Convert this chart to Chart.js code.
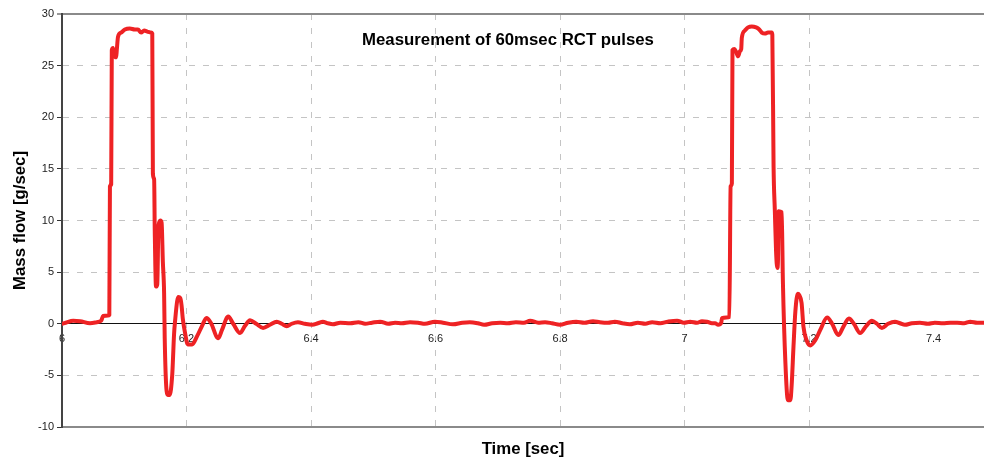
<!DOCTYPE html>
<html>
<head>
<meta charset="utf-8">
<script src="https://cdn.jsdelivr.net/npm/chart.js@4/dist/chart.umd.min.js"></script>
<style>
  body { margin: 0; background: #fff; }
  #wrap { width: 984px; height: 459px; position: relative; }
</style>
</head>
<body>
<div id="wrap"><canvas id="grafico"></canvas></div>
<script>
// dados
const chartTitle = 'Measurement of 60msec RCT pulses';
const xTitle = 'Time [sec]';
const yTitle = 'Mass flow [g/sec]';

const timeSec = [
  6.000, 6.006, 6.018, 6.029, 6.045, 6.056, 6.063, 6.066, 6.074, 6.076,
  6.077, 6.079, 6.080, 6.082, 6.084, 6.087, 6.088, 6.090, 6.095, 6.101,
  6.109, 6.117, 6.122, 6.127, 6.132, 6.137, 6.143, 6.145, 6.146, 6.148,
  6.149, 6.151, 6.153, 6.155, 6.158, 6.160, 6.162, 6.164, 6.165, 6.168,
  6.170, 6.173, 6.177, 6.178, 6.180, 6.182, 6.185, 6.187, 6.190, 6.192,
  6.194, 6.198, 6.202, 6.209, 6.217, 6.225, 6.232, 6.239, 6.251, 6.257,
  6.267, 6.275, 6.286, 6.294, 6.302, 6.312, 6.323, 6.334, 6.345, 6.353,
  6.361, 6.369, 6.379, 6.390, 6.402, 6.411, 6.419, 6.427, 6.435, 6.447,
  6.463, 6.476, 6.487, 6.498, 6.511, 6.524, 6.535, 6.546, 6.559, 6.572,
  6.583, 6.599, 6.612, 6.628, 6.643, 6.655, 6.668, 6.678, 6.691, 6.704,
  6.716, 6.729, 6.742, 6.752, 6.765, 6.776, 6.787, 6.800, 6.813, 6.826,
  6.839, 6.853, 6.864, 6.877, 6.888, 6.900, 6.912, 6.925, 6.937, 6.948,
  6.961, 6.973, 6.988, 6.999, 7.009, 7.020, 7.028, 7.036, 7.044,
  7.049, 7.054, 7.059, 7.060, 7.067, 7.072, 7.074, 7.076, 7.077, 7.080,
  7.083, 7.086, 7.089, 7.091, 7.092, 7.097, 7.102, 7.108, 7.115, 7.120,
  7.124, 7.129, 7.134, 7.140, 7.141, 7.143, 7.145, 7.147, 7.149, 7.150,
  7.151, 7.156, 7.158, 7.162, 7.166, 7.170, 7.172, 7.175, 7.178, 7.182,
  7.184, 7.188, 7.191, 7.196, 7.202, 7.210, 7.218, 7.229, 7.237, 7.247,
  7.255, 7.264, 7.272, 7.282, 7.292, 7.301, 7.309, 7.317, 7.327, 7.338,
  7.346, 7.354, 7.365, 7.378, 7.391, 7.402, 7.415, 7.427, 7.438, 7.449,
  7.459, 7.470, 7.481
];

const massFlow = [
  0.0, 0.1, 0.3, 0.25, 0.05, 0.15, 0.3, 0.75, 0.8, 0.85,
  13.3, 13.5, 26.5, 26.7, 26.0, 25.8, 26.5, 27.8, 28.2, 28.5,
  28.6, 28.5, 28.5, 28.2, 28.4, 28.3, 28.2, 28.1, 14.5, 14.0,
  9.0, 3.6, 3.8, 9.5, 10.0, 9.8, 6.0, 3.0, -1.4, -6.5,
  -6.9, -6.9, -5.0, -3.8, -1.0, 0.5, 2.2, 2.6, 2.5, 1.8,
  0.5, -1.0, -2.0, -2.0, -1.2, -0.2, 0.55, 0.1, -1.4, -0.6,
  0.7, 0.0, -0.9, -0.2, 0.35, 0.0, -0.4, -0.1, 0.2, 0.0,
  -0.25, 0.0, 0.15, 0.0, -0.1, 0.05, 0.2, 0.05, -0.05, 0.1,
  0.05, 0.15, 0.0, 0.1, 0.2, 0.0, 0.1, 0.05, 0.15, 0.1,
  0.0, 0.2, 0.1, -0.05, 0.1, 0.15, 0.05, -0.1, 0.05, 0.1,
  0.05, 0.15, 0.1, 0.3, 0.1, 0.15, 0.05, -0.1, 0.1, 0.2,
  0.1, 0.25, 0.15, 0.1, 0.2, 0.05, -0.05, 0.1, 0.0, 0.15,
  0.05, 0.2, 0.3, 0.1, 0.2, 0.1, 0.25, 0.2, 0.05,
  0.05, -0.1, 0.1, 0.55, 0.6, 0.65, 13.3, 13.6, 26.5, 26.6,
  26.3, 25.9, 26.4, 26.6, 27.7, 28.4, 28.7, 28.8, 28.7, 28.5,
  28.2, 28.1, 28.2, 28.2, 28.0, 15.2, 11.0, 7.0, 5.4, 6.0,
  10.9, 10.8, 4.0, -3.8, -7.4, -7.4, -6.0, -2.2, 1.2, 2.9,
  2.8, 2.0, -0.3, -1.6, -2.1, -1.6, -0.6, 0.6, 0.0, -1.1,
  -0.3, 0.5, 0.0, -0.9, -0.2, 0.3, 0.0, -0.4, 0.0, 0.2,
  0.05, -0.1, 0.05, 0.1, 0.0, 0.1, 0.05, 0.1, 0.1, 0.05,
  0.2, 0.1, 0.1
];

const xRange = [6, 7.481];
const yRange = [-10, 30];

Chart.defaults.font.family = '"Liberation Sans", Arial, sans-serif';
Chart.defaults.color = '#222';

function naGrade(v) {
  // só os múltiplos de 0.2
  return Math.abs(v * 5 - Math.round(v * 5)) < 1e-6;
}

// título dentro da área do gráfico
const tituloInterno = {
  id: 'tituloInterno',
  afterDraw(chart) {
    const { ctx, chartArea } = chart;
    ctx.save();
    ctx.font = 'bold 16.8px "Liberation Sans", Arial, sans-serif';
    ctx.fillStyle = '#000';
    ctx.textAlign = 'center';
    ctx.textBaseline = 'middle';
    ctx.fillText(chartTitle, chartArea.left + 446, chartArea.top + 26);
    ctx.restore();
  }
};

const ctx = document.getElementById('grafico').getContext('2d');

new Chart(ctx, {
  type: 'line',
  data: {
    datasets: [{
      data: timeSec.map((t, i) => ({ x: t, y: massFlow[i] })),
      borderColor: 'rgb(238,34,36)',
      borderWidth: 4,
      borderJoinStyle: 'round',
      borderCapStyle: 'round',
      pointRadius: 0,
      cubicInterpolationMode: 'monotone',
      xAxisID: 'x',
      yAxisID: 'y'
    }]
  },
  options: {
    responsive: true,
    maintainAspectRatio: false,
    animation: false,
    layout: { padding: { top: 14, right: 0, left: 0, bottom: 0 } },
    plugins: {
      legend: { display: false },
      tooltip: { enabled: false }
    },
    scales: {
      x: {
        type: 'linear',
        position: 'bottom',
        min: xRange[0],
        max: xRange[1],
        ticks: { stepSize: 0.2, display: false },
        grid: {
          drawTicks: false,
          color: (c) => {
            if (!c.tick) return 'transparent';
            const v = c.tick.value;
            if (v < 6.001 || !naGrade(v)) return 'transparent';
            return '#c4c4c4';
          }
        },
        border: { color: '#8a8a8a', width: 2, dash: [6, 8] },
        title: {
          display: true,
          text: xTitle,
          font: { size: 16.8, weight: 'bold' },
          color: '#000',
          padding: { top: 0, bottom: 0 }
        },
        afterFit: (s) => { s.height = 32; }
      },
      x2: {
        type: 'linear',
        axis: 'x',
        position: { y: 0 },
        min: xRange[0],
        max: xRange[1],
        ticks: {
          stepSize: 0.2,
          padding: 9,
          maxRotation: 0,
          font: { size: 11 },
          callback: (v) => naGrade(v) ? String(+v.toFixed(1)) : null
        },
        grid: { display: false, drawTicks: false },
        border: { color: '#111', width: 1 },
        afterFit: (s) => { s.height = 0; s.paddingLeft = 0; s.paddingRight = 0; }
      },
      y: {
        type: 'linear',
        min: yRange[0],
        max: yRange[1],
        ticks: { stepSize: 5, padding: 3, font: { size: 11 } },
        grid: {
          tickLength: 5,
          tickWidth: 1,
          tickColor: '#333',
          lineWidth: (c) => (c.tick && c.tick.value === 30) ? 2 : 1,
          color: (c) => {
            if (!c.tick) return 'transparent';
            const v = c.tick.value;
            if (v === 0 || v === -10) return 'transparent';
            if (v === 30) return '#8a8a8a';
            return '#c4c4c4';
          }
        },
        border: {
          color: '#444',
          width: 2,
          dash: (c) => (c.tick && (c.tick.value === 30 || c.tick.value === -10)) ? [] : [6, 8]
        },
        title: {
          display: true,
          text: yTitle,
          font: { size: 16.8, weight: 'bold' },
          color: '#000',
          padding: { top: 10, bottom: 0 }
        },
        afterFit: (s) => { s.width = 62; }
      }
    }
  },
  plugins: [tituloInterno]
});
</script>
</body>
</html>
